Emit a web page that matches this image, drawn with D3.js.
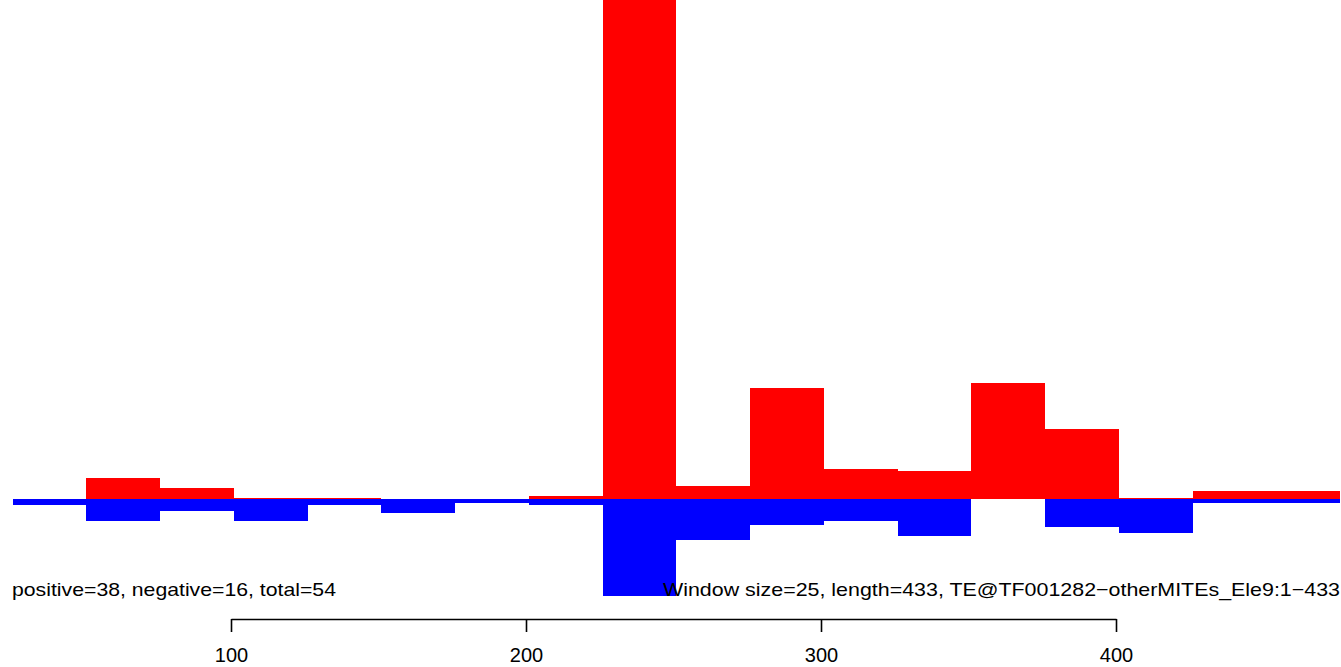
<!DOCTYPE html>
<html>
<head>
<meta charset="utf-8">
<script src="https://cdn.jsdelivr.net/npm/d3@7"></script>
<style>
body { margin: 0; background: #fff; }
svg { display: block; }
text { font-family: "Liberation Sans", Arial, sans-serif; }
</style>
</head>
<body>
<script>
// window starts (size 25)
var windowStarts = [26, 51, 76, 101, 126, 151, 176, 201, 226, 251, 276, 301, 326, 351, 376, 401, 426, 451];
var windowSize = 25;
// (arbitrary units, 1 unit ~ 1px)
var posValues = [0, 21, 11, 1, 1, 0, 0, 3, 560, 13, 111, 30, 28, 116, 70, 1.3, 8, 8];
var negValues = [6, 22, 12, 22, 6, 14, 4.3, 6, 97, 41, 26, 22, 37, 0, 28, 34, 3.7, 3.7];
var tickValues = [100, 200, 300, 400];
var leftLabel = "positive=38, negative=16, total=54";
var rightLabel = "Window size=25, length=433, TE@TF001282\u2212otherMITEs_Ele9:1\u2212433";

const W = 1341, H = 667;

const svg = d3.select("body").append("svg")
    .attr("width", W)
    .attr("height", H);

var xScale = d3.scaleLinear().domain([100, 400]).range([231, 1116]);
var yScale = d3.scaleLinear().domain([-168, 499]).range([H, 0]);

// red bars (positive)
svg.selectAll("rect.pos")
    .data(windowStarts)
    .enter().append("rect")
    .attr("class", "pos")
    .attr("x", d => xScale(d))
    .attr("width", d => xScale(d + windowSize) - xScale(d))
    .attr("y", (d, i) => yScale(posValues[i]))
    .attr("height", (d, i) => yScale(0) - yScale(posValues[i]))
    .attr("fill", "#ff0000")
    .attr("shape-rendering", "crispEdges");

// blue bars (negative)
svg.selectAll("rect.neg")
    .data(windowStarts)
    .enter().append("rect")
    .attr("class", "neg")
    .attr("x", d => xScale(d))
    .attr("width", d => xScale(d + windowSize) - xScale(d))
    .attr("y", yScale(0))
    .attr("height", (d, i) => yScale(-negValues[i]) - yScale(0))
    .attr("fill", "#0000ff")
    .attr("shape-rendering", "crispEdges");

// bottom labels (reference glyphs are a bit wider than tall)
svg.append("text")
    .attr("x", 12)
    .attr("y", 596)
    .attr("font-size", "19px")
    .attr("textLength", 324)
    .attr("lengthAdjust", "spacingAndGlyphs")
    .text(leftLabel);

svg.append("text")
    .attr("x", 663)
    .attr("y", 596)
    .attr("font-size", "19px")
    .attr("textLength", 677)
    .attr("lengthAdjust", "spacingAndGlyphs")
    .text(rightLabel);

// x axis
var xAxis = d3.axisBottom(xScale)
    .tickValues(tickValues)
    .tickSize(13)
    .tickPadding(16)
    .tickSizeOuter(0);

var axisG = svg.append("g")
    .attr("transform", "translate(0,619)")
    .call(xAxis);
axisG.select(".domain").attr("stroke-width", 1.6);
axisG.selectAll(".tick line").attr("stroke-width", 1.6);
axisG.selectAll(".tick text")
    .attr("font-size", "20px")
    .attr("font-family", "Liberation Sans, Arial, sans-serif")
    .attr("fill", "#000");
</script>
</body>
</html>
